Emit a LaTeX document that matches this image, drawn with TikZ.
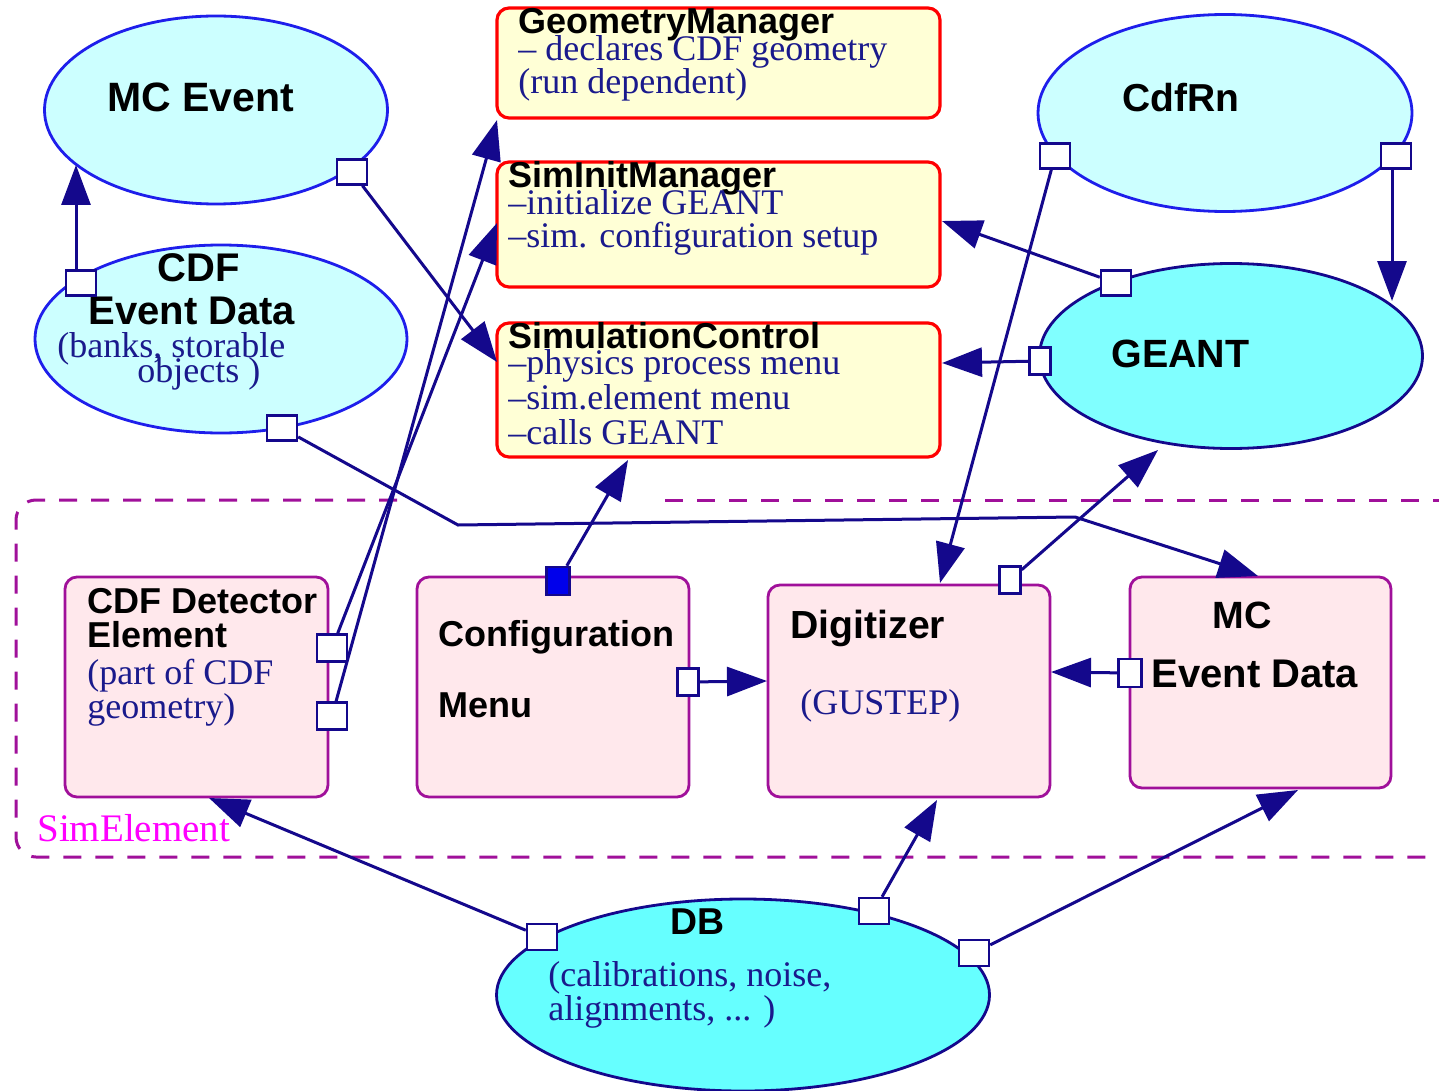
\documentclass[tikz,border=0pt]{standalone}
\usepackage{fontspec}
\setmainfont{Liberation Serif}
\newfontfamily\hvfont{Liberation Sans}
\usetikzlibrary{shapes.geometric,arrows.meta,calc}
\definecolor{navy}{RGB}{20,8,140}
\definecolor{eblue}{RGB}{30,30,235}
\definecolor{lcyan}{RGB}{204,255,255}
\definecolor{gcyan}{RGB}{128,255,255}
\definecolor{dbcyan}{RGB}{102,255,255}
\definecolor{ylw}{RGB}{255,255,214}
\definecolor{pnk}{RGB}{255,232,236}
\definecolor{purp}{RGB}{160,16,154}
\definecolor{txtblue}{RGB}{26,26,140}
\definecolor{mag}{RGB}{255,0,255}
\definecolor{boxred}{RGB}{255,0,0}
\definecolor{pblue}{RGB}{0,0,235}
\begin{document}
\begin{tikzpicture}[x=0.5pt,y=-0.5pt,
 lightell/.style={ellipse, draw=eblue, fill=lcyan, line width=1.4pt, inner sep=0pt},
 darkell/.style={ellipse, draw=navy, fill=gcyan, line width=1.4pt, inner sep=0pt},
 ybox/.style={rectangle, rounded corners=6pt, draw=boxred, fill=ylw, line width=1.6pt, inner sep=0pt, minimum width=221.5pt},
 pbox/.style={rectangle, rounded corners=6pt, draw=purp, fill=pnk, line width=1.4pt, inner sep=0pt},
 port/.style={rectangle, draw=navy, fill=white, line width=1.2pt, inner sep=0pt, minimum width=15pt, minimum height=12.5pt},
 nport/.style={port, minimum width=10.5pt, minimum height=13.5pt},
 conn/.style={draw=navy, line width=1.5pt, -{Triangle[length=20pt,width=14.5pt]}},
 ttl/.style={anchor=base west, inner sep=0pt, font=\hvfont\bfseries\fontsize{18}{20}\selectfont},
 sub/.style={anchor=base west, inner sep=0pt, text=txtblue, font=\fontsize{18}{20}\selectfont},
]
\useasboundingbox[fill=white] (0,0) rectangle (1439,1091);

% SimElement dashed frame
\draw[purp, line width=1.5pt, dash pattern=on 9pt off 7pt, rounded corners=10pt]
  (397,500) -- (16,500) -- (16,857) -- (1439,857);
\draw[purp, line width=1.5pt, dash pattern=on 9pt off 7pt] (665,500) -- (1439,500);
\node[anchor=base west, inner sep=0pt, text=mag, font=\fontsize{19.5}{21}\selectfont] (lblSim) at (37,841) {SimElement};

% ellipses
\node[lightell, minimum width=171.5pt, minimum height=94pt] (mcev) at (216,110) {};
\node[lightell, minimum width=186pt, minimum height=94pt] (cdfev) at (221,339) {};
\node[lightell, minimum width=187pt, minimum height=98.5pt] (cdfrn) at (1225,113) {};
\node[darkell, minimum width=191.5pt, minimum height=92.5pt] (geant) at (1231,356) {};
\node[darkell, fill=dbcyan, minimum width=246.5pt, minimum height=96pt] (db) at (743,995) {};

% yellow boxes
\node[ybox, minimum height=55pt] (geo) at (718.5,63) {};
\node[ybox, minimum height=62.5pt] (siminit) at (718.5,224.5) {};
\node[ybox, minimum height=67pt] (simctl) at (718.5,390) {};

% pink boxes
\node[pbox, minimum width=131.5pt, minimum height=110pt] (cdfdet) at (196.5,687) {};
\node[pbox, minimum width=136pt, minimum height=110pt] (config) at (553,687) {};
\node[pbox, minimum width=141pt, minimum height=106pt] (digit) at (909,691) {};
\node[pbox, minimum width=130.5pt, minimum height=105.5pt] (mced) at (1260.5,682.5) {};

% texts
\node[ttl, font=\hvfont\bfseries\fontsize{20.5}{22}\selectfont] (tMcev) at (107,112) {MC Event};
\node[ttl, font=\hvfont\bfseries\fontsize{20}{22}\selectfont] (tCdf) at (157,281) {CDF};
\node[ttl, font=\hvfont\bfseries\fontsize{20}{22}\selectfont] (tEvData) at (88,324) {Event Data};
\node[sub] (tBanks) at (57,357) {(banks, storable};
\node[sub] (tObjects) at (137,382) {objects )};
\node[ttl, font=\hvfont\bfseries\fontsize{19.5}{22}\selectfont] (tCdfrn) at (1122,112) {CdfRn};
\node[ttl, font=\hvfont\bfseries\fontsize{19.7}{22}\selectfont] (tGeant) at (1111,367) {GEANT};
\node[ttl, font=\hvfont\bfseries\fontsize{18.7}{22}\selectfont] (tDb) at (670,934) {DB};
\node[sub] (tCalib) at (548,986) {(calibrations, noise,};
\node[sub] (tAlign) at (548,1020) {alignments, ... )};

\node[ttl] (tGeo) at (518,34) {GeometryManager};
\node[sub] (tGeo1) at (518,61) {– declares CDF geometry};
\node[sub] (tGeo2) at (518,94) {(run dependent)};
\node[ttl] (tSim) at (508,188) {SimInitManager};
\node[sub] (tSim1) at (508,214) {–initialize GEANT};
\node[sub] (tSim2) at (508,248) {–sim. configuration setup};
\node[ttl] (tCtl) at (508,348) {SimulationControl};
\node[sub] (tCtl1) at (508,374) {–physics process menu};
\node[sub] (tCtl2) at (508,409) {–sim.element menu};
\node[sub] (tCtl3) at (508,444) {–calls GEANT};

\node[ttl] (tDet1) at (87,613) {CDF Detector};
\node[ttl] (tDet2) at (87,647) {Element};
\node[sub] (tDet3) at (87,684) {(part of CDF};
\node[sub] (tDet4) at (87,718) {geometry)};
\node[ttl] (tCfg1) at (438,646) {Configuration};
\node[ttl] (tCfg2) at (438,717) {Menu};
\node[ttl, font=\hvfont\bfseries\fontsize{19.6}{22}\selectfont] (tDig) at (790,638) {Digitizer};
\node[sub] (tGus) at (800,714) {(GUSTEP)};
\node[ttl, font=\hvfont\bfseries\fontsize{19}{22}\selectfont] (tMc) at (1212,628) {MC};
\node[ttl, font=\hvfont\bfseries\fontsize{20}{22}\selectfont] (tMcEd) at (1151,687) {Event Data};

% ports
\node[port] (pMcev) at (352,172) {};
\node[port] (pCdfevT) at (81,283) {};
\node[port] (pCdfevB) at (282,428) {};
\node[port] (pCdfrnL) at (1055,156) {};
\node[port] (pCdfrnR) at (1396,156) {};
\node[port] (pGeantT) at (1116,283) {};
\node[nport] (pGeantL) at (1040,361) {};
\node[port, minimum height=13.5pt] (pDet1) at (332,648) {};
\node[port, minimum height=13.5pt] (pDet2) at (332,716) {};
\node[nport, fill=pblue, minimum width=11.5pt, minimum height=14pt] (pCfgT) at (558,581) {};
\node[nport] (pCfgR) at (688,682) {};
\node[nport] (pDigT) at (1010,580) {};
\node[nport, minimum width=11.5pt, minimum height=14pt] (pMcedL) at (1130,673) {};
\node[port, minimum height=13pt] (pDb1) at (542,937) {};
\node[port, minimum height=13pt] (pDb2) at (874,911) {};
\node[port, minimum height=13pt] (pDb3) at (974,953) {};

% connector end points
\coordinate (tipMcev) at (76,165);
\coordinate (tipCtlW) at (497,362);
\coordinate (bendA) at (458,525);
\coordinate (bendB) at (1075,517);
\coordinate (tipMced) at (1258,576);
\coordinate (tipGeo) at (497,120);
\coordinate (tipSimW) at (497,223);
\coordinate (tipSimE) at (942,221);
\coordinate (tipCtlE) at (942,363);
\coordinate (tipGeantT) at (1392,301);
\coordinate (tipDigT) at (940,583);
\coordinate (tipGeantB) at (1158,450);
\coordinate (tipCtlS) at (628,460);
\coordinate (tipDigW) at (767,681);
\coordinate (tipDigE) at (1051,672);
\coordinate (tipDetS) at (209,798);
\coordinate (tipDigS) at (937,800);
\coordinate (tipMcedS) at (1298,790);

% connectors
\draw[conn] (pCdfevT.north -| tipMcev) -- (tipMcev);
\draw[conn] (pMcev) -- (tipCtlW);
\draw[conn] (pCdfevB) -- (bendA) -- (bendB) -- (tipMced);
\draw[conn] (pDet2) -- (tipGeo);
\draw[conn] (pDet1) -- (tipSimW);
\draw[conn] (pGeantT) -- (tipSimE);
\draw[conn] (pGeantL) -- (tipCtlE);
\draw[conn] (pCdfrnR.south -| tipGeantT) -- (tipGeantT);
\draw[conn] (pCdfrnL) -- (tipDigT);
\draw[conn] (pDigT) -- (tipGeantB);
\draw[conn] (pCfgT) -- (tipCtlS);
\draw[conn] (pCfgR) -- (tipDigW);
\draw[conn] (pMcedL) -- (tipDigE);
\draw[conn] (pDb1) -- (tipDetS);
\draw[conn] (pDb2) -- (tipDigS);
\draw[conn] (pDb3) -- (tipMcedS);
\end{tikzpicture}
\end{document}
